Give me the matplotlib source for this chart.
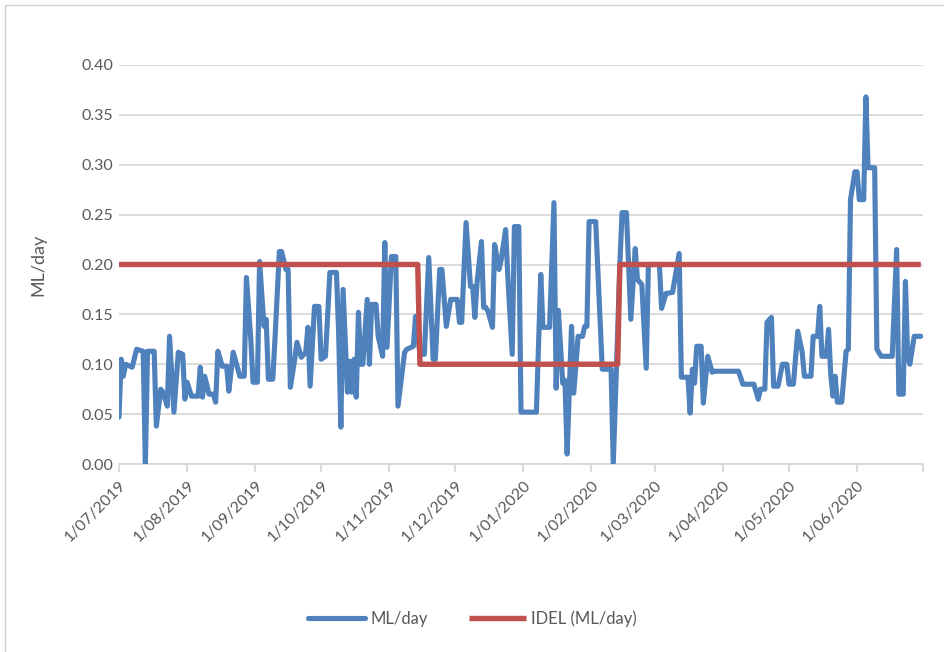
import matplotlib
matplotlib.use("Agg")
import matplotlib.pyplot as plt
import matplotlib.transforms as mtrans
import pandas as pd
from matplotlib.patches import Rectangle

plt.rcParams['font.family'] = ['Lato', 'DejaVu Sans']

start_date = "2019-07-01"

# Blue series: day offset from 1/07/2019 and ML/day value
ml_days = [0, 1, 2, 3, 6, 8, 11, 12, 13, 16, 17, 19, 20, 22, 23, 25, 27, 29, 30, 31,
           33, 36, 37, 38, 39, 41, 43, 44, 45, 47, 49, 50, 52, 55, 57, 58, 60, 61, 63, 64,
           66, 67, 68, 70, 71, 73, 74, 76, 77, 78, 80, 81, 83, 85, 86, 87, 89, 91, 92, 94,
           96, 99, 100, 101, 102, 104, 105, 106, 107, 108, 109, 110, 111, 113, 114, 115, 117, 118, 120, 121,
           122, 124, 126, 127, 130, 131, 134, 135, 137, 139, 141, 143, 144, 146, 147, 149, 151, 154, 155, 156,
           158, 160, 161, 162, 163, 165, 166, 167, 168, 170, 171, 173, 174, 176, 177, 179, 180, 182, 183, 190,
           192, 193, 196, 198, 199, 200, 202, 203, 204, 206, 207, 209, 211, 212, 213, 214, 217, 220, 224, 225,
           228, 229, 231, 233, 235, 236, 238, 240, 241, 246, 247, 249, 252, 255, 256, 259, 260, 261, 262, 263,
           265, 266, 268, 270, 271, 282, 284, 289, 291, 292, 294, 295, 297, 298, 300, 302, 304, 305, 307, 309,
           311, 312, 315, 316, 318, 319, 320, 322, 323, 324, 325, 326, 327, 329, 331, 332, 333, 335, 336, 337,
           339, 340, 341, 344, 345, 347, 352, 354, 355, 357, 358, 359, 360, 362, 365]
ml_values = [0.047, 0.105, 0.088, 0.100, 0.097, 0.115, 0.113, 0.000, 0.113, 0.113, 0.038, 0.075, 0.072, 0.058, 0.128, 0.052, 0.112, 0.110, 0.065, 0.082,
             0.068, 0.068, 0.097, 0.067, 0.088, 0.070, 0.070, 0.062, 0.113, 0.098, 0.098, 0.073, 0.112, 0.088, 0.088, 0.187, 0.125, 0.082, 0.082, 0.203,
             0.138, 0.145, 0.085, 0.085, 0.125, 0.213, 0.213, 0.195, 0.195, 0.077, 0.105, 0.122, 0.107, 0.112, 0.137, 0.078, 0.158, 0.158, 0.105, 0.108,
             0.192, 0.192, 0.130, 0.037, 0.175, 0.072, 0.103, 0.072, 0.105, 0.067, 0.152, 0.100, 0.100, 0.165, 0.100, 0.160, 0.160, 0.128, 0.108, 0.222,
             0.117, 0.208, 0.208, 0.058, 0.112, 0.115, 0.118, 0.148, 0.110, 0.110, 0.207, 0.105, 0.105, 0.195, 0.195, 0.138, 0.165, 0.165, 0.142, 0.142,
             0.242, 0.178, 0.178, 0.147, 0.182, 0.223, 0.157, 0.157, 0.153, 0.137, 0.220, 0.195, 0.205, 0.235, 0.188, 0.110, 0.238, 0.238, 0.052, 0.052,
             0.190, 0.137, 0.137, 0.262, 0.076, 0.154, 0.081, 0.084, 0.010, 0.138, 0.071, 0.128, 0.128, 0.138, 0.138, 0.243, 0.243, 0.095, 0.095, 0.000,
             0.200, 0.252, 0.252, 0.145, 0.216, 0.185, 0.180, 0.096, 0.200, 0.200, 0.156, 0.171, 0.172, 0.211, 0.087, 0.087, 0.051, 0.095, 0.081, 0.118,
             0.118, 0.061, 0.108, 0.092, 0.093, 0.093, 0.080, 0.080, 0.065, 0.075, 0.075, 0.142, 0.147, 0.078, 0.078, 0.100, 0.100, 0.080, 0.080, 0.133,
             0.112, 0.088, 0.088, 0.128, 0.128, 0.158, 0.108, 0.108, 0.135, 0.090, 0.068, 0.088, 0.062, 0.062, 0.113, 0.115, 0.265, 0.293, 0.293, 0.265,
             0.265, 0.368, 0.297, 0.297, 0.115, 0.108, 0.108, 0.215, 0.070, 0.070, 0.183, 0.108, 0.100, 0.128, 0.128]

# Red series (IDEL)
idel_days = [0, 136, 137, 227, 228, 365]
idel_values = [0.20, 0.20, 0.10, 0.10, 0.20, 0.20]

y_ticks = [0.00, 0.05, 0.10, 0.15, 0.20, 0.25, 0.30, 0.35, 0.40]

start = pd.Timestamp(start_date)
ml_dates = [start + pd.Timedelta(days=d) for d in ml_days]
idel_dates = [start + pd.Timedelta(days=d) for d in idel_days]
month_ticks = pd.date_range("2019-07-01", "2020-07-01", freq="MS")

BLUE = "#4F81BD"
RED = "#C0504D"
GRID = "#D9D9D9"
TXT = "#595959"

fig = plt.figure(figsize=(9.45, 6.52), dpi=100)
fig.patches.append(Rectangle((5/945, -0.1), 1.2, 1.1 - 5/652, transform=fig.transFigure,
                             fill=False, edgecolor="#D0D0D0", linewidth=1.0))
ax = fig.add_axes([119/945, 1 - 464/652, (923 - 119)/945, (464 - 65)/652])

ax.plot(ml_dates, ml_values, color=BLUE, linewidth=3.7, solid_joinstyle='round',
        solid_capstyle='round', label="ML/day", zorder=3)
ax.plot(idel_dates, idel_values, color=RED, linewidth=3.9, solid_joinstyle='round',
        solid_capstyle='butt', label="IDEL (ML/day)", zorder=4)

ax.set_xlim(start, month_ticks[-1])
ax.set_ylim(0, 0.40)
ax.set_yticks(y_ticks)
ax.set_yticklabels([f"{v:.2f}" for v in y_ticks])
ax.set_xticks(month_ticks)
labels = [f"{d.day}/{d.month:02d}/{d.year}" for d in month_ticks]
labels[-1] = ""
ax.set_xticklabels(labels, rotation=45, ha='right', va='top', rotation_mode='anchor')
offset = mtrans.ScaledTranslation(4/100, -2/100, fig.dpi_scale_trans)
for lab in ax.get_xticklabels():
    lab.set_transform(lab.get_transform() + offset)

ax.grid(axis='y', color=GRID, linewidth=1.3)
ax.set_axisbelow(True)
for s in ['top', 'right', 'left']:
    ax.spines[s].set_visible(False)
ax.spines['bottom'].set_color(GRID)
ax.spines['bottom'].set_linewidth(1.3)
ax.tick_params(axis='y', length=0, pad=4, labelsize=11.5, labelcolor=TXT)
ax.tick_params(axis='x', length=6, width=1.3, color=GRID, pad=4, labelsize=11.5, labelcolor=TXT)

ax.set_ylabel("ML/day", fontsize=13, color=TXT, labelpad=25)

leg = fig.legend(loc='center', bbox_to_anchor=(0.5, 1 - 619/652), ncol=2, frameon=False,
                 fontsize=12, handlelength=3.4, columnspacing=2.5, handletextpad=0.3)
for t in leg.get_texts():
    t.set_color(TXT)

fig.savefig("out.png", dpi=100)
